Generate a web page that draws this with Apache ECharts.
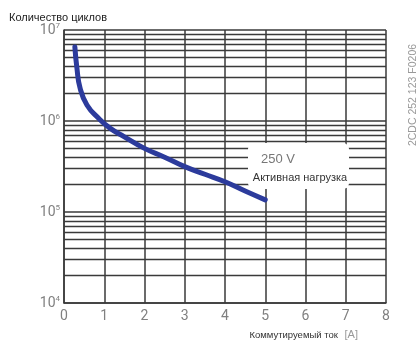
<!DOCTYPE html>
<html><head><meta charset="utf-8">
<script src="https://cdn.jsdelivr.net/npm/echarts@6/dist/echarts.min.js"></script>
<style>html,body{margin:0;padding:0;background:#fff}#c{width:419px;height:343px}</style>
</head><body><div id="c"></div>
<script>
var xValues = [0.27, 0.32, 0.40, 0.57, 0.86, 1.15, 1.5, 2.0, 2.5, 3.0, 3.5, 4.0, 4.5, 5.0];
var cycles  = [6.5e6, 3.85e6, 2.3e6, 1.5e6, 1.07e6, 8.3e5, 6.7e5, 5.0e5, 4.0e5, 3.15e5, 2.6e5, 2.15e5, 1.7e5, 1.36e5];
var xTicks = [0,1,2,3,4,5,6,7,8];
var yDecades = [1e4, 1e5, 1e6, 1e7];
var minorMultipliers = [2,3,4,5,6,7,8,9];

var minorLines = [];
yDecades.slice(0,3).forEach(function(d){
  minorMultipliers.forEach(function(m){ minorLines.push({yAxis: d*m}); });
});

var chart = echarts.init(document.getElementById('c'));
var gridColor = '#3a3a3a';
chart.setOption({
  animation:false,
  backgroundColor:'#fff',
  grid:{left:64, right:33, top:30, bottom:40},
  xAxis:{
    type:'value', min:0, max:8, interval:1,
    axisLine:{show:true, lineStyle:{color:gridColor, width:1.5}},
    axisTick:{show:false},
    splitLine:{show:true, lineStyle:{color:gridColor, width:1.5}},
    axisLabel:{color:'#808080', fontSize:14, fontFamily:'Liberation Sans Narrow, Roboto', margin:6,
      formatter:function(v){return xTicks.indexOf(v)>=0 ? String(v) : '';}}
  },
  yAxis:{
    type:'log', logBase:10, min:1e4, max:1e7,
    axisLine:{show:true, lineStyle:{color:gridColor, width:1.5}},
    axisTick:{show:false},
    splitLine:{show:true, lineStyle:{color:gridColor, width:1.5}},
    axisLabel:{margin:4,
      formatter:function(v){var e=Math.round(Math.log10(v)); return '{b|10}{s|'+e+'}';},
      rich:{
        b:{color:'#808080', fontSize:14, fontFamily:'Liberation Sans Narrow, Roboto'},
        s:{color:'#808080', fontSize:8, fontFamily:'Liberation Sans Narrow, Roboto', verticalAlign:'top', padding:[0,0,8,0]}
      }}
  },
  series:[
    {type:'line', data:[], silent:true,
     markLine:{silent:true, symbol:'none', label:{show:false},
       lineStyle:{color:gridColor, width:1.3, type:'solid'}, data:minorLines}},
    {type:'line', smooth:0.5, showSymbol:false, z:5,
     lineStyle:{color:'#2c3b9c', width:5, cap:'round', join:'round'},
     data:xValues.map(function(x,i){return [x, cycles[i]];})}
  ],
  graphic:[
    {type:'text', left:9, top:12, style:{text:'Количество циклов', fill:'#222', font:'11px Liberation Sans, Roboto'}},
    {type:'text', x:358, y:335, style:{text:'{a|Коммутируемый ток}  {b|[A]}', textAlign:'right', textVerticalAlign:'middle',
      rich:{a:{fill:'#333', fontSize:9.5, fontFamily:'Liberation Sans, Roboto'}, b:{fill:'#999', fontSize:11, fontFamily:'Liberation Sans, Roboto'}}}},
    {type:'rect', shape:{x:248, y:143, width:101, height:46, r:6}, style:{fill:'#fff'}, z:10},
    {type:'text', x:278, y:159, z:11, style:{text:'250 V', fill:'#777', font:'13px Liberation Sans, Roboto', textAlign:'center', textVerticalAlign:'middle'}},
    {type:'text', x:300, y:178, z:11, style:{text:'Активная нагрузка', fill:'#333', font:'11px Liberation Sans, Roboto', textAlign:'center', textVerticalAlign:'middle'}},
    {type:'text', x:413, y:95, rotation:Math.PI/2, z:11, style:{text:'2CDC 252 123 F0206', fill:'#999', font:'10.5px Liberation Sans, Roboto', textAlign:'center', textVerticalAlign:'middle'}}
  ]
});
</script></body></html>
